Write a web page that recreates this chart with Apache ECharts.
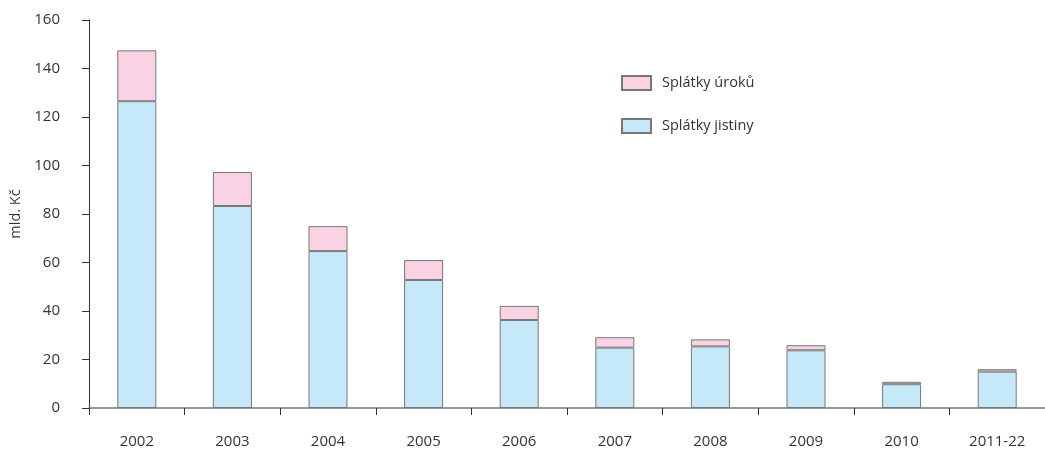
<!DOCTYPE html>
<html>
<head>
<meta charset="utf-8">
<script src="https://cdn.jsdelivr.net/npm/echarts@6/dist/echarts.min.js"></script>
<style>html,body{margin:0;padding:0;background:#fff;}#c{width:1045px;height:452px;}</style>
</head>
<body>
<div id="c"></div>
<script>
var categories = ['2002','2003','2004','2005','2006','2007','2008','2009','2010','2011-22'];
var jistiny = [126.5, 83.3, 64.7, 52.8, 36.3, 24.9, 25.4, 23.8, 9.8, 15.0];
var uroky = [21.0, 14.0, 10.3, 8.2, 5.8, 4.3, 2.9, 2.1, 1.0, 1.0];
var yTicks = [0, 20, 40, 60, 80, 100, 120, 140, 160];

var font = '"Open Sans", "Noto Sans", sans-serif';
var chart = echarts.init(document.getElementById('c'), null, {renderer: 'canvas'});
chart.setOption({
  animation: false,
  backgroundColor: '#fff',
  textStyle: {fontFamily: font},
  grid: {left: 89, top: 20, bottom: 44, width: 963, containLabel: false},
  legend: {
    orient: 'vertical',
    left: 616, top: 70,
    itemGap: 27,
    icon: 'rect',
    itemWidth: 29, itemHeight: 14,
    textStyle: {fontFamily: font, fontSize: 14.5, color: '#333', padding: [0,0,0,6]},
    data: ['Splátky úroků', 'Splátky jistiny']
  },
  xAxis: {
    type: 'category',
    data: categories,
    axisLine: {lineStyle: {color: '#777', width: 1.5}},
    axisTick: {show: true, length: 7, lineStyle: {color: '#333'}},
    axisLabel: {fontFamily: font, fontSize: 15, color: '#333', margin: 26}
  },
  yAxis: {
    type: 'value',
    min: yTicks[0], max: yTicks[yTicks.length-1], interval: 20,
    name: 'mld. Kč',
    nameLocation: 'middle',
    nameGap: 64,
    nameRotate: 90,
    nameTextStyle: {fontFamily: font, fontSize: 14.5, color: '#333'},
    axisLine: {show: true, lineStyle: {color: '#333'}},
    axisTick: {show: true, length: 7, lineStyle: {color: '#333'}},
    axisLabel: {fontFamily: font, fontSize: 15, color: '#333', margin: 29},
    splitLine: {show: false}
  },
  series: [
    {
      name: 'Splátky jistiny', type: 'bar', stack: 's', barWidth: 39,
      data: jistiny,
      itemStyle: {color: '#c6e9fa', borderColor: '#777', borderWidth: 1}
    },
    {
      name: 'Splátky úroků', type: 'bar', stack: 's', barWidth: 39,
      data: uroky,
      itemStyle: {color: '#f9d3e4', borderColor: '#777', borderWidth: 1}
    }
  ]
});
</script>
</body>
</html>
